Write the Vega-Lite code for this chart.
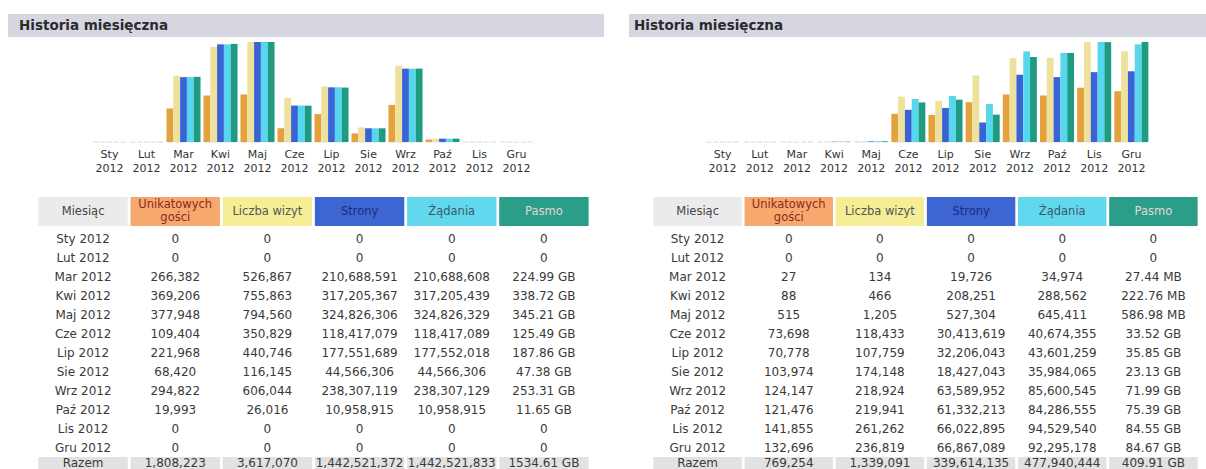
{
  "$schema": "https://vega.github.io/schema/vega-lite/v6.json",
  "padding": {"left": 8, "top": 14, "right": 0, "bottom": 0},
  "background": "white",
  "config": {"font": "DejaVu Sans", "view": {"stroke": null}},
  "datasets": {
    "L": [
      {"m": "Sty 2012", "u": 0, "v": 0, "p": 0, "h": 0, "k": 0, "kl": "0"},
      {"m": "Lut 2012", "u": 0, "v": 0, "p": 0, "h": 0, "k": 0, "kl": "0"},
      {"m": "Mar 2012", "u": 266382, "v": 526867, "p": 210688591, "h": 210688608, "k": 224.99, "kl": "224.99 GB"},
      {"m": "Kwi 2012", "u": 369206, "v": 755863, "p": 317205367, "h": 317205439, "k": 338.72, "kl": "338.72 GB"},
      {"m": "Maj 2012", "u": 377948, "v": 794560, "p": 324826306, "h": 324826329, "k": 345.21, "kl": "345.21 GB"},
      {"m": "Cze 2012", "u": 109404, "v": 350829, "p": 118417079, "h": 118417089, "k": 125.49, "kl": "125.49 GB"},
      {"m": "Lip 2012", "u": 221968, "v": 440746, "p": 177551689, "h": 177552018, "k": 187.86, "kl": "187.86 GB"},
      {"m": "Sie 2012", "u": 68420, "v": 116145, "p": 44566306, "h": 44566306, "k": 47.38, "kl": "47.38 GB"},
      {"m": "Wrz 2012", "u": 294822, "v": 606044, "p": 238307119, "h": 238307129, "k": 253.31, "kl": "253.31 GB"},
      {"m": "Paź 2012", "u": 19993, "v": 26016, "p": 10958915, "h": 10958915, "k": 11.65, "kl": "11.65 GB"},
      {"m": "Lis 2012", "u": 0, "v": 0, "p": 0, "h": 0, "k": 0, "kl": "0"},
      {"m": "Gru 2012", "u": 0, "v": 0, "p": 0, "h": 0, "k": 0, "kl": "0"},
      {"m": "Razem", "u": 1808223, "v": 3617070, "p": 1442521372, "h": 1442521833, "k": 1534.61, "kl": "1534.61 GB"}
    ],
    "R": [
      {"m": "Sty 2012", "u": 0, "v": 0, "p": 0, "h": 0, "k": 0, "kl": "0"},
      {"m": "Lut 2012", "u": 0, "v": 0, "p": 0, "h": 0, "k": 0, "kl": "0"},
      {"m": "Mar 2012", "u": 27, "v": 134, "p": 19726, "h": 34974, "k": 0.0268, "kl": "27.44 MB"},
      {"m": "Kwi 2012", "u": 88, "v": 466, "p": 208251, "h": 288562, "k": 0.2175, "kl": "222.76 MB"},
      {"m": "Maj 2012", "u": 515, "v": 1205, "p": 527304, "h": 645411, "k": 0.5732, "kl": "586.98 MB"},
      {"m": "Cze 2012", "u": 73698, "v": 118433, "p": 30413619, "h": 40674355, "k": 33.52, "kl": "33.52 GB"},
      {"m": "Lip 2012", "u": 70778, "v": 107759, "p": 32206043, "h": 43601259, "k": 35.85, "kl": "35.85 GB"},
      {"m": "Sie 2012", "u": 103974, "v": 174148, "p": 18427043, "h": 35984065, "k": 23.13, "kl": "23.13 GB"},
      {"m": "Wrz 2012", "u": 124147, "v": 218924, "p": 63589952, "h": 85600545, "k": 71.99, "kl": "71.99 GB"},
      {"m": "Paź 2012", "u": 121476, "v": 219941, "p": 61332213, "h": 84286555, "k": 75.39, "kl": "75.39 GB"},
      {"m": "Lis 2012", "u": 141855, "v": 261262, "p": 66022895, "h": 94529540, "k": 84.55, "kl": "84.55 GB"},
      {"m": "Gru 2012", "u": 132696, "v": 236819, "p": 66867089, "h": 92295178, "k": 84.67, "kl": "84.67 GB"},
      {"m": "Razem", "u": 769254, "v": 1339091, "p": 339614135, "h": 477940444, "k": 409.91, "kl": "409.91 GB"}
    ],
    "H": [
      {"c": "m", "t": "Miesiąc"},
      {"c": "u", "t": "Unikatowych\ngości"},
      {"c": "v", "t": "Liczba wizyt"},
      {"c": "p", "t": "Strony"},
      {"c": "h", "t": "Żądania"},
      {"c": "k", "t": "Pasmo"}
    ]
  },
  "hconcat": [
    {
      "bounds": "flush", "spacing": 0,
      "resolve": {"scale": {"color": "independent", "fill": "independent"}},
      "vconcat": [
        {
          "width": 596, "height": 23,
          "view": {"fill": "#d6d6e0", "stroke": null},
          "data": {"values": [{"t": "Historia miesięczna"}]},
          "mark": {"type": "text", "align": "left", "baseline": "middle", "dx": 11, "fontSize": 13.5, "fontWeight": "bold", "color": "#2b2b2b"},
          "encoding": {"text": {"field": "t"}, "x": {"datum": 0, "type": "quantitative", "scale": {"domain": [0, 1]}, "axis": null}}
        },
        {
          "width": 596, "height": 160,
          "data": {"name": "L"},
          "transform": [{"filter": "datum.m !== 'Razem'"}, {"fold": ["u", "v", "p", "h", "k"], "as": ["s", "val"]}],
          "encoding": {
            "x": {"field": "m", "type": "nominal", "sort": null, "scale": {"range": [83, 527], "paddingInner": 0.08, "paddingOuter": 0.04}, "axis": {"title": null, "domain": false, "ticks": false, "tickSize": 0, "offset": -55, "labelAngle": 0, "labelPadding": 6, "labelFontSize": 11, "labelColor": "#333333", "labelLineHeight": 14, "labelExpr": "split(datum.value, ' ')"}},
            "xOffset": {"field": "s", "type": "nominal", "scale": {"domain": ["u", "v", "p", "h", "k"]}}
          },
          "layer": [
            {"mark": {"type": "tick", "thickness": 1, "size": 5, "color": "#c5c8d6"}, "encoding": {"y": {"datum": 0, "type": "quantitative", "scale": {"domain": [0, 1], "range": [105, 5]}, "axis": null}}},
            {"transform": [{"filter": "datum.s === 'u' || datum.s === 'v'"}], "mark": "bar", "encoding": {"y": {"field": "val", "type": "quantitative", "stack": null, "scale": {"nice": false, "zero": true, "range": [105, 5]}, "axis": null}, "color": {"field": "s", "type": "nominal", "scale": {"domain": ["u", "v", "p", "h", "k"], "range": ["#E3A23E", "#EDE19C", "#3A63D6", "#56D7EE", "#1E9B80"]}, "legend": null}}},
            {"transform": [{"filter": "datum.s === 'p' || datum.s === 'h'"}], "mark": "bar", "encoding": {"y": {"field": "val", "type": "quantitative", "stack": null, "scale": {"nice": false, "zero": true, "range": [105, 5]}, "axis": null}, "color": {"field": "s", "type": "nominal", "scale": {"domain": ["u", "v", "p", "h", "k"], "range": ["#E3A23E", "#EDE19C", "#3A63D6", "#56D7EE", "#1E9B80"]}, "legend": null}}},
            {"transform": [{"filter": "datum.s === 'k'"}], "mark": "bar", "encoding": {"y": {"field": "val", "type": "quantitative", "stack": null, "scale": {"nice": false, "zero": true, "range": [105, 5]}, "axis": null}, "color": {"field": "s", "type": "nominal", "scale": {"domain": ["u", "v", "p", "h", "k"], "range": ["#E3A23E", "#EDE19C", "#3A63D6", "#56D7EE", "#1E9B80"]}, "legend": null}}}
          ],
          "resolve": {"scale": {"y": "independent"}}
        },
        {
          "width": 596, "height": 29,
          "data": {"name": "H"},
          "encoding": {"x": {"field": "c", "type": "nominal", "sort": null, "scale": {"domain": ["m", "u", "v", "p", "h", "k"], "range": [29, 582], "paddingInner": 0.03, "paddingOuter": 0.015}, "axis": null}},
          "layer": [
            {"mark": {"type": "rect"}, "encoding": {"fill": {"field": "c", "type": "nominal", "scale": {"domain": ["m", "u", "v", "p", "h", "k"], "range": ["#EBEBEB", "#F7A86E", "#F5EE96", "#3E66D3", "#62D8EE", "#2B9E8A"]}, "legend": null}}},
            {"transform": [{"filter": "datum.c !== 'u'"}], "mark": {"type": "text", "fontSize": 11.5, "baseline": "middle"}, "encoding": {"text": {"field": "t"}, "color": {"field": "c", "type": "nominal", "scale": {"domain": ["m", "u", "v", "p", "h", "k"], "range": ["#444444", "#8A2A1A", "#555555", "#1B2B7A", "#3A5A66", "#E6D3DA"]}, "legend": null}}},
            {"transform": [{"filter": "datum.c === 'u'"}], "mark": {"type": "text", "fontSize": 11.5, "baseline": "middle", "lineBreak": "\n", "lineHeight": 13, "dy": -6.5}, "encoding": {"text": {"field": "t"}, "color": {"field": "c", "type": "nominal", "scale": {"domain": ["m", "u", "v", "p", "h", "k"], "range": ["#444444", "#8A2A1A", "#555555", "#1B2B7A", "#3A5A66", "#E6D3DA"]}, "legend": null}}}
          ]
        },
        {
          "width": 596, "height": 231,
          "data": {"name": "L"},
          "transform": [{"filter": "datum.m !== 'Razem'"}],
          "encoding": {"y": {"field": "m", "type": "nominal", "sort": null, "scale": {"range": [3, 231]}, "axis": null}},
          "layer": [
            {"mark": {"type": "text", "fontSize": 12, "color": "#3a3a3a"}, "encoding": {"x": {"datum": "m", "type": "nominal", "scale": {"domain": ["m", "u", "v", "p", "h", "k"], "range": [29, 582], "paddingInner": 0.03, "paddingOuter": 0.015}, "axis": null}, "text": {"field": "m"}}},
            {"transform": [{"fold": ["u", "v", "p", "h"], "as": ["c", "val"]}], "mark": {"type": "text", "fontSize": 12, "color": "#3a3a3a"}, "encoding": {"x": {"field": "c", "type": "nominal", "scale": {"domain": ["m", "u", "v", "p", "h", "k"], "range": [29, 582], "paddingInner": 0.03, "paddingOuter": 0.015}, "axis": null}, "text": {"field": "val", "type": "quantitative", "format": ","}}},
            {"mark": {"type": "text", "fontSize": 12, "color": "#3a3a3a"}, "encoding": {"x": {"datum": "k", "type": "nominal", "scale": {"domain": ["m", "u", "v", "p", "h", "k"], "range": [29, 582], "paddingInner": 0.03, "paddingOuter": 0.015}, "axis": null}, "text": {"field": "kl"}}}
          ]
        },
        {
          "width": 596, "height": 12,
          "data": {"name": "L"},
          "transform": [{"filter": "datum.m === 'Razem'"}],
          "layer": [
            {"transform": [{"fold": ["m", "u", "v", "p", "h", "k"], "as": ["c", "val"]}], "mark": {"type": "rect", "color": "#e2e2e2"}, "encoding": {"x": {"field": "c", "type": "nominal", "scale": {"domain": ["m", "u", "v", "p", "h", "k"], "range": [29, 582], "paddingInner": 0.03, "paddingOuter": 0.015}, "axis": null}}},
            {"mark": {"type": "text", "fontSize": 12, "color": "#3a3a3a", "baseline": "middle"}, "encoding": {"x": {"datum": "m", "type": "nominal", "scale": {"domain": ["m", "u", "v", "p", "h", "k"], "range": [29, 582], "paddingInner": 0.03, "paddingOuter": 0.015}, "axis": null}, "text": {"field": "m"}}},
            {"transform": [{"fold": ["u", "v", "p", "h"], "as": ["c", "val"]}], "mark": {"type": "text", "fontSize": 12, "color": "#3a3a3a", "baseline": "middle"}, "encoding": {"x": {"field": "c", "type": "nominal", "scale": {"domain": ["m", "u", "v", "p", "h", "k"], "range": [29, 582], "paddingInner": 0.03, "paddingOuter": 0.015}, "axis": null}, "text": {"field": "val", "type": "quantitative", "format": ","}}},
            {"mark": {"type": "text", "fontSize": 12, "color": "#3a3a3a", "baseline": "middle"}, "encoding": {"x": {"datum": "k", "type": "nominal", "scale": {"domain": ["m", "u", "v", "p", "h", "k"], "range": [29, 582], "paddingInner": 0.03, "paddingOuter": 0.015}, "axis": null}, "text": {"field": "kl"}}}
          ]
        }
      ]
    },
    {
      "bounds": "flush", "spacing": 0,
      "resolve": {"scale": {"color": "independent", "fill": "independent"}},
      "vconcat": [
        {
          "width": 577, "height": 23,
          "view": {"fill": "#d6d6e0", "stroke": null},
          "data": {"values": [{"t": "Historia miesięczna"}]},
          "mark": {"type": "text", "align": "left", "baseline": "middle", "dx": 5, "fontSize": 13.5, "fontWeight": "bold", "color": "#2b2b2b"},
          "encoding": {"text": {"field": "t"}, "x": {"datum": 0, "type": "quantitative", "scale": {"domain": [0, 1]}, "axis": null}}
        },
        {
          "width": 577, "height": 160,
          "data": {"name": "R"},
          "transform": [{"filter": "datum.m !== 'Razem'"}, {"fold": ["u", "v", "p", "h", "k"], "as": ["s", "val"]}],
          "encoding": {
            "x": {"field": "m", "type": "nominal", "sort": null, "scale": {"range": [75, 521], "paddingInner": 0.08, "paddingOuter": 0.04}, "axis": {"title": null, "domain": false, "ticks": false, "tickSize": 0, "offset": -55, "labelAngle": 0, "labelPadding": 6, "labelFontSize": 11, "labelColor": "#333333", "labelLineHeight": 14, "labelExpr": "split(datum.value, ' ')"}},
            "xOffset": {"field": "s", "type": "nominal", "scale": {"domain": ["u", "v", "p", "h", "k"]}}
          },
          "layer": [
            {"mark": {"type": "tick", "thickness": 1, "size": 5, "color": "#c5c8d6"}, "encoding": {"y": {"datum": 0, "type": "quantitative", "scale": {"domain": [0, 1], "range": [105, 5]}, "axis": null}}},
            {"transform": [{"filter": "datum.s === 'u' || datum.s === 'v'"}], "mark": "bar", "encoding": {"y": {"field": "val", "type": "quantitative", "stack": null, "scale": {"nice": false, "zero": true, "range": [105, 5]}, "axis": null}, "color": {"field": "s", "type": "nominal", "scale": {"domain": ["u", "v", "p", "h", "k"], "range": ["#E3A23E", "#EDE19C", "#3A63D6", "#56D7EE", "#1E9B80"]}, "legend": null}}},
            {"transform": [{"filter": "datum.s === 'p' || datum.s === 'h'"}], "mark": "bar", "encoding": {"y": {"field": "val", "type": "quantitative", "stack": null, "scale": {"nice": false, "zero": true, "range": [105, 5]}, "axis": null}, "color": {"field": "s", "type": "nominal", "scale": {"domain": ["u", "v", "p", "h", "k"], "range": ["#E3A23E", "#EDE19C", "#3A63D6", "#56D7EE", "#1E9B80"]}, "legend": null}}},
            {"transform": [{"filter": "datum.s === 'k'"}], "mark": "bar", "encoding": {"y": {"field": "val", "type": "quantitative", "stack": null, "scale": {"nice": false, "zero": true, "range": [105, 5]}, "axis": null}, "color": {"field": "s", "type": "nominal", "scale": {"domain": ["u", "v", "p", "h", "k"], "range": ["#E3A23E", "#EDE19C", "#3A63D6", "#56D7EE", "#1E9B80"]}, "legend": null}}}
          ],
          "resolve": {"scale": {"y": "independent"}}
        },
        {
          "width": 577, "height": 29,
          "data": {"name": "H"},
          "encoding": {"x": {"field": "c", "type": "nominal", "sort": null, "scale": {"domain": ["m", "u", "v", "p", "h", "k"], "range": [23, 570], "paddingInner": 0.03, "paddingOuter": 0.015}, "axis": null}},
          "layer": [
            {"mark": {"type": "rect"}, "encoding": {"fill": {"field": "c", "type": "nominal", "scale": {"domain": ["m", "u", "v", "p", "h", "k"], "range": ["#EBEBEB", "#F7A86E", "#F5EE96", "#3E66D3", "#62D8EE", "#2B9E8A"]}, "legend": null}}},
            {"transform": [{"filter": "datum.c !== 'u'"}], "mark": {"type": "text", "fontSize": 11.5, "baseline": "middle"}, "encoding": {"text": {"field": "t"}, "color": {"field": "c", "type": "nominal", "scale": {"domain": ["m", "u", "v", "p", "h", "k"], "range": ["#444444", "#8A2A1A", "#555555", "#1B2B7A", "#3A5A66", "#E6D3DA"]}, "legend": null}}},
            {"transform": [{"filter": "datum.c === 'u'"}], "mark": {"type": "text", "fontSize": 11.5, "baseline": "middle", "lineBreak": "\n", "lineHeight": 13, "dy": -6.5}, "encoding": {"text": {"field": "t"}, "color": {"field": "c", "type": "nominal", "scale": {"domain": ["m", "u", "v", "p", "h", "k"], "range": ["#444444", "#8A2A1A", "#555555", "#1B2B7A", "#3A5A66", "#E6D3DA"]}, "legend": null}}}
          ]
        },
        {
          "width": 577, "height": 231,
          "data": {"name": "R"},
          "transform": [{"filter": "datum.m !== 'Razem'"}],
          "encoding": {"y": {"field": "m", "type": "nominal", "sort": null, "scale": {"range": [3, 231]}, "axis": null}},
          "layer": [
            {"mark": {"type": "text", "fontSize": 12, "color": "#3a3a3a"}, "encoding": {"x": {"datum": "m", "type": "nominal", "scale": {"domain": ["m", "u", "v", "p", "h", "k"], "range": [23, 570], "paddingInner": 0.03, "paddingOuter": 0.015}, "axis": null}, "text": {"field": "m"}}},
            {"transform": [{"fold": ["u", "v", "p", "h"], "as": ["c", "val"]}], "mark": {"type": "text", "fontSize": 12, "color": "#3a3a3a"}, "encoding": {"x": {"field": "c", "type": "nominal", "scale": {"domain": ["m", "u", "v", "p", "h", "k"], "range": [23, 570], "paddingInner": 0.03, "paddingOuter": 0.015}, "axis": null}, "text": {"field": "val", "type": "quantitative", "format": ","}}},
            {"mark": {"type": "text", "fontSize": 12, "color": "#3a3a3a"}, "encoding": {"x": {"datum": "k", "type": "nominal", "scale": {"domain": ["m", "u", "v", "p", "h", "k"], "range": [23, 570], "paddingInner": 0.03, "paddingOuter": 0.015}, "axis": null}, "text": {"field": "kl"}}}
          ]
        },
        {
          "width": 577, "height": 12,
          "data": {"name": "R"},
          "transform": [{"filter": "datum.m === 'Razem'"}],
          "layer": [
            {"transform": [{"fold": ["m", "u", "v", "p", "h", "k"], "as": ["c", "val"]}], "mark": {"type": "rect", "color": "#e2e2e2"}, "encoding": {"x": {"field": "c", "type": "nominal", "scale": {"domain": ["m", "u", "v", "p", "h", "k"], "range": [23, 570], "paddingInner": 0.03, "paddingOuter": 0.015}, "axis": null}}},
            {"mark": {"type": "text", "fontSize": 12, "color": "#3a3a3a", "baseline": "middle"}, "encoding": {"x": {"datum": "m", "type": "nominal", "scale": {"domain": ["m", "u", "v", "p", "h", "k"], "range": [23, 570], "paddingInner": 0.03, "paddingOuter": 0.015}, "axis": null}, "text": {"field": "m"}}},
            {"transform": [{"fold": ["u", "v", "p", "h"], "as": ["c", "val"]}], "mark": {"type": "text", "fontSize": 12, "color": "#3a3a3a", "baseline": "middle"}, "encoding": {"x": {"field": "c", "type": "nominal", "scale": {"domain": ["m", "u", "v", "p", "h", "k"], "range": [23, 570], "paddingInner": 0.03, "paddingOuter": 0.015}, "axis": null}, "text": {"field": "val", "type": "quantitative", "format": ","}}},
            {"mark": {"type": "text", "fontSize": 12, "color": "#3a3a3a", "baseline": "middle"}, "encoding": {"x": {"datum": "k", "type": "nominal", "scale": {"domain": ["m", "u", "v", "p", "h", "k"], "range": [23, 570], "paddingInner": 0.03, "paddingOuter": 0.015}, "axis": null}, "text": {"field": "kl"}}}
          ]
        }
      ]
    }
  ],
  "spacing": 25,
  "resolve": {"scale": {"color": "independent", "fill": "independent"}}
}
